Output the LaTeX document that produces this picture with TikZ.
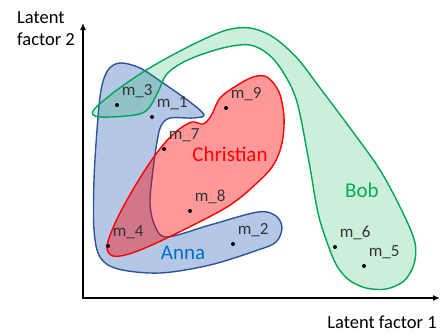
\documentclass[tikz,border=0pt]{standalone}
\usepackage{fontspec}
\setmainfont{Carlito}
\usetikzlibrary{arrows.meta, positioning}
\definecolor{annafill}{HTML}{B4C7E7}
\definecolor{annaline}{HTML}{2F5597}
\definecolor{annatext}{HTML}{0070C0}
\definecolor{bobline}{HTML}{00A651}
\definecolor{bobfill}{HTML}{00B050}
\begin{document}
\begin{tikzpicture}[
  x=1pt, y=-1pt,
  every node/.style={font=\fontsize{17}{20}\selectfont},
  pt/.style={circle, fill=black, inner sep=0pt, minimum size=4pt},
  mlbl/.style={text=black!80, inner sep=1pt},
  axisline/.style={line width=2pt, -{Latex[length=7pt,width=6pt]}},
  blob/.style={line width=1.4pt, smooth cycle, tension=0.55},
  who/.style={font=\fontsize{21}{24}\selectfont},
  axlbl/.style={font=\fontsize{18.5}{22}\selectfont, align=left, inner sep=0pt}
]
  \useasboundingbox (0,0) rectangle (441,332);
  % groups
  \draw[blob, annaline, fill=annafill] plot coordinates {
    (120,63) (140,68) (163,83) (190,102) (204,115) (193,118) (170,118)
    (161,126) (157,142) (153,170) (150,203) (155,226) (167,237) (210,225)
    (258,212) (276,216) (282,228) (276,242) (258,250) (210,265) (160,273)
    (118,269) (100,257) (94,230) (94,180) (97,130) (101,90) (108,70)};
  \draw[blob, bobline, fill=bobfill, fill opacity=0.2] plot coordinates {
    (93,111) (113,93) (140,74) (167,58) (200,41) (227,30) (250,28)
    (273,37) (297,58) (320,88) (350,128) (380,170) (403,213) (415,243)
    (414,264) (404,281) (386,289) (366,288) (349,280) (337,266) (328,245)
    (318,213) (309,162) (297,102) (283,72) (268,54) (250,45) (227,47)
    (200,55) (180,64) (166,75) (158,92) (148,109) (135,115) (100,117)};
  \draw[blob, red, fill=red, fill opacity=0.4] plot coordinates {
    (107,246) (116,221) (131,193) (147,167) (163,145) (178,130) (192,122)
    (203,124) (211,116) (220,98) (236,86) (253,77) (267,77) (279,92)
    (284,117) (282,143) (274,164) (258,182) (227,207) (167,238) (132,253)
    (113,256)};
  % axes
  \draw[axisline] (83,298) -- (83,23);
  \draw[axisline] (82,298) -- (440,298);
  \node[axlbl] (ylbl) at (46,29) {Latent\\factor 2};
  \node[axlbl] (xlbl) at (382,322) {Latent factor 1};
  % items
  \foreach \n/\x/\y in {3/117/105, 1/152/117, 9/226/108, 7/164/149,
      8/190/211, 4/108/246, 2/233/244, 6/335/247, 5/364/266} {
    \node[pt] (m\n) at (\x,\y) {};
    \node[mlbl, above right=4pt and 2pt of m\n] (l\n) {m\_\n};
  }
  \node[who, text=red] (christian) at (230,154) {Christian};
  \node[who, text=annatext] (anna) at (183,253) {Anna};
  \node[who, text=bobfill] (bob) at (362,190) {Bob};
\end{tikzpicture}
\end{document}
